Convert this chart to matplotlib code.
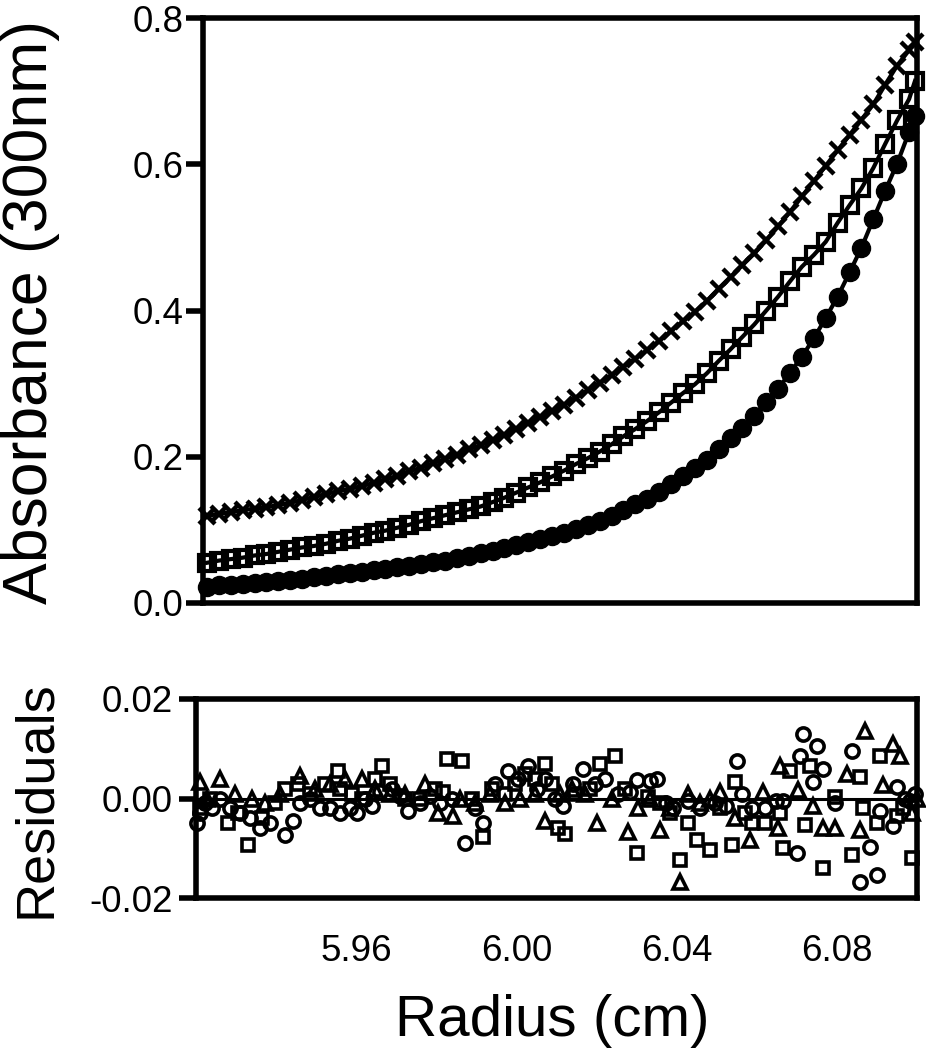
import matplotlib
matplotlib.use("Agg")
import matplotlib.pyplot as plt

plt.rcParams['font.family'] = ['Liberation Sans', 'DejaVu Sans']

# ---------------------------------------------------------------------------
# Data
# radius (cm) for the absorbance scans
radius = [5.921, 5.924, 5.927, 5.930, 5.933, 5.936, 5.939, 5.942, 5.945, 5.948,
          5.951, 5.954, 5.957, 5.960, 5.963, 5.966, 5.969, 5.972, 5.975, 5.978,
          5.981, 5.984, 5.987, 5.990, 5.993, 5.996, 5.999, 6.002, 6.005, 6.008,
          6.011, 6.014, 6.017, 6.020, 6.023, 6.026, 6.029, 6.032, 6.035, 6.038,
          6.041, 6.044, 6.047, 6.050, 6.053, 6.056, 6.059, 6.062, 6.065, 6.068,
          6.071, 6.074, 6.077, 6.080, 6.083, 6.086, 6.089, 6.092, 6.095, 6.098, 6.0995]

abs_cross = [.119, .122, .124, .127, .129, .131, .134, .137, .141, .145,
             .149, .153, .156, .160, .164, .169, .174, .180, .185, .191,
             .197, .203, .210, .216, .223, .230, .238, .246, .254, .262,
             .271, .281, .291, .301, .312, .323, .334, .346, .358, .372,
             .385, .398, .413, .430, .446, .462, .478, .496, .515, .535,
             .556, .577, .598, .619, .640, .661, .682, .709, .735, .756, .767]

abs_square = [.055, .058, .060, .062, .065, .067, .070, .073, .076, .078,
              .081, .085, .088, .092, .096, .099, .103, .107, .112, .116,
              .120, .124, .128, .132, .138, .144, .151, .158, .165, .173,
              .181, .190, .198, .207, .217, .228, .238, .249, .261, .274,
              .287, .299, .314, .331, .347, .364, .381, .400, .419, .440,
              .460, .476, .494, .520, .544, .567, .595, .628, .660, .689, .714]

abs_circle = [.022, .024, .025, .026, .028, .029, .030, .032, .033, .035,
              .037, .039, .041, .043, .045, .047, .049, .051, .053, .056,
              .058, .061, .064, .068, .071, .075, .079, .083, .087, .091,
              .096, .101, .107, .112, .119, .127, .135, .142, .152, .163,
              .173, .184, .196, .211, .225, .240, .256, .275, .293, .315,
              .337, .362, .390, .419, .452, .486, .525, .564, .601, .644, .666]

# residuals: open circles
r_res_circ = [5.9202, 5.9210, 5.9222, 5.9240, 5.9260, 5.9285, 5.9310, 5.9335, 5.9360, 5.9385,
              5.9422, 5.9442, 5.9460, 5.9485, 5.9510, 5.9534, 5.9559, 5.9584, 5.9602, 5.9622,
              5.9639, 5.9659, 5.9689, 5.9709, 5.9729, 5.9759, 5.9784, 5.9809, 5.9839, 5.9871,
              5.9896, 5.9916, 5.9946, 5.9979, 6.0004, 6.0029, 6.0051, 6.0071, 6.0096, 6.0116,
              6.0141, 6.0166, 6.0196, 6.0221, 6.0253, 6.0283, 6.0301, 6.0333, 6.0351, 6.0373,
              6.0391, 6.0428, 6.0458, 6.0496, 6.0523, 6.0550, 6.0563, 6.0588, 6.0620, 6.0648,
              6.0665, 6.0700, 6.0708, 6.0715, 6.0740, 6.0750, 6.0765, 6.0795, 6.0837, 6.0857,
              6.0882, 6.0900, 6.0907, 6.0940, 6.0950, 6.0970, 6.0982, 6.0995]
res_circ = [-.0050, -.0030, -.0010, -.0020, .0000, -.0020, -.0030, -.0040, -.0060, -.0050,
            -.0073, -.0046, -.0010, .0000, -.0020, -.0020, -.0030, -.0020, -.0030, .0000,
            -.0016, .0014, .0020, .0005, -.0026, -.0010, .0005, -.0010, .0000, -.0090,
            -.0020, -.0050, .0030, .0055, .0040, .0065, .0020, .0040, .0000, -.0016,
            .0030, .0060, .0030, .0040, .0010, .0014, .0038, .0035, .0040, -.0010,
            -.0020, -.0005, -.0020, -.0010, -.0015, .0075, .0010, -.0020, -.0020, -.0005,
            -.0005, -.0110, .0085, .0130, .0034, .0105, .0060, -.0010, .0095, -.0168,
            -.0097, -.0154, -.0026, -.0056, .0024, .0000, -.0006, .0010]

# residuals: open squares
r_res_sq = [5.9210, 5.9235, 5.9280, 5.9305, 5.9330, 5.9365, 5.9397, 5.9422, 5.9455, 5.9485,
            5.9522, 5.9554, 5.9559, 5.9589, 5.9614, 5.9647, 5.9664, 5.9684, 5.9722, 5.9759,
            5.9797, 5.9817, 5.9827, 5.9864, 5.9889, 5.9916, 5.9939, 5.9971, 5.9996, 6.0021,
            6.0046, 6.0071, 6.0089, 6.0104, 6.0121, 6.0146, 6.0183, 6.0208, 6.0246, 6.0271,
            6.0301, 6.0328, 6.0358, 6.0383, 6.0408, 6.0428, 6.0451, 6.0483, 6.0508, 6.0538,
            6.0545, 6.0570, 6.0588, 6.0620, 6.0658, 6.0665, 6.0683, 6.0720, 6.0733, 6.0765,
            6.0795, 6.0837, 6.0857, 6.0865, 6.0900, 6.0907, 6.0950, 6.0965, 6.0987]
res_sq = [-.0020, .0000, -.0050, -.0030, -.0093, -.0040, -.0010, .0020, .0030, .0010,
          .0030, .0055, .0020, .0010, .0000, .0040, .0065, .0030, .0000, .0000,
          .0020, .0014, .0079, .0075, .0000, -.0077, .0020, .0010, .0030, .0050,
          .0040, .0070, .0030, -.0060, -.0071, .0010, .0020, .0069, .0085, .0020,
          -.0110, .0004, -.0010, -.0030, -.0123, -.0050, -.0083, -.0103, -.0020, -.0093,
          .0034, -.0030, -.0050, -.0050, -.0030, -.0100, .0055, -.0053, .0065, -.0140,
          .0004, -.0113, .0044, -.0020, -.0050, .0085, -.0036, -.0020, -.0120]

# residuals: open triangles
r_res_tri = [5.9210, 5.9227, 5.9260, 5.9297, 5.9340, 5.9372, 5.9410, 5.9460, 5.9497, 5.9534,
             5.9572, 5.9614, 5.9647, 5.9684, 5.9722, 5.9772, 5.9804, 5.9841, 5.9859, 5.9896,
             5.9934, 5.9971, 6.0009, 6.0046, 6.0071, 6.0109, 6.0139, 6.0171, 6.0201, 6.0238,
             6.0278, 6.0303, 6.0333, 6.0358, 6.0383, 6.0408, 6.0428, 6.0458, 6.0483, 6.0508,
             6.0545, 6.0583, 6.0615, 6.0653, 6.0658, 6.0703, 6.0740, 6.0765, 6.0795, 6.0825,
             6.0857, 6.0870, 6.0915, 6.0940, 6.0957, 6.0987, 6.1000]
res_tri = [.0034, .0000, .0040, .0010, .0000, -.0010, .0010, .0045, .0020, .0030,
           .0040, .0040, .0020, .0010, .0010, .0030, -.0030, -.0036, .0000, -.0010,
           .0010, -.0010, .0000, .0010, -.0046, .0010, .0020, .0010, -.0050, .0000,
           -.0067, -.0020, .0000, -.0063, -.0020, -.0168, .0010, -.0010, .0000, .0014,
           -.0040, -.0083, .0014, -.0060, .0065, .0018, -.0016, -.0060, -.0060, .0050,
           -.0063, .0135, .0028, .0110, .0085, -.0030, .0000]

x_ticks = [5.96, 6.00, 6.04, 6.08]
x_labels = ['5.96', '6.00', '6.04', '6.08']
y_ticks_top = [0.0, 0.2, 0.4, 0.6, 0.8]
y_ticks_res = [-0.02, 0.00, 0.02]
# ---------------------------------------------------------------------------

W, H = 926, 1050
fig = plt.figure(figsize=(W / 100, H / 100), dpi=100)

ax1 = fig.add_axes([203 / W, 1 - 603 / H, 714 / W, 585 / H])
ax2 = fig.add_axes([196 / W, 1 - 898 / H, 721 / W, 199 / H])

spine_lw = 4.0
for ax in (ax1, ax2):
    for s in ax.spines.values():
        s.set_linewidth(spine_lw)
        s.set_capstyle('projecting')
    ax.set_xlim(5.92, 6.10)
    ax.tick_params(axis='y', direction='out', length=12, width=spine_lw, labelsize=26.5)

# top panel: absorbance scans with fitted lines
ax1.plot(radius, abs_cross, color='black', lw=3, marker='x', ms=11, mew=3.2, clip_on=False)
ax1.plot(radius, abs_square, color='black', lw=3, marker='s', ms=12, mew=3.0,
         mfc='none', clip_on=False)
ax1.plot(radius, abs_circle, color='black', lw=3, marker='o', ms=13, clip_on=False)
ax1.set_ylim(0, 0.8)
ax1.set_yticks(y_ticks_top)
ax1.set_yticklabels(['0.0', '0.2', '0.4', '0.6', '0.8'])
ax1.tick_params(axis='y', pad=2)
ax1.set_xticks([])

# bottom panel: residuals
ax2.axhline(0, color='black', lw=2.2, zorder=1)
ax2.plot(r_res_circ, res_circ, ls='none', marker='o', ms=9.5, mew=2.6, mec='black',
         mfc='none', clip_on=False)
ax2.plot(r_res_sq, res_sq, ls='none', marker='s', ms=9, mew=2.6, mec='black',
         mfc='none', clip_on=False)
ax2.plot(r_res_tri, res_tri, ls='none', marker='^', ms=10.5, mew=2.6, mec='black',
         mfc='none', clip_on=False)
ax2.set_ylim(-0.02, 0.02)
ax2.set_yticks(y_ticks_res)
ax2.set_yticklabels(['-0.02', '0.00', '0.02'])
ax2.tick_params(axis='y', pad=5)
ax2.set_xticks(x_ticks)
ax2.set_xticklabels(x_labels)
ax2.tick_params(axis='x', length=0, pad=26, labelsize=26.5)

# axis titles
fig.text(31 / W, 1 - 312 / H, 'Absorbance (300nm)', rotation=90, ha='center', va='center',
         fontsize=45)
fig.text(36 / W, 1 - 799 / H, 'Residuals', rotation=90, ha='center', va='center', fontsize=39)
fig.text(552 / W, 1 - 1036 / H, 'Radius (cm)', ha='center', va='baseline', fontsize=42)

fig.savefig('out.png', dpi=100)
